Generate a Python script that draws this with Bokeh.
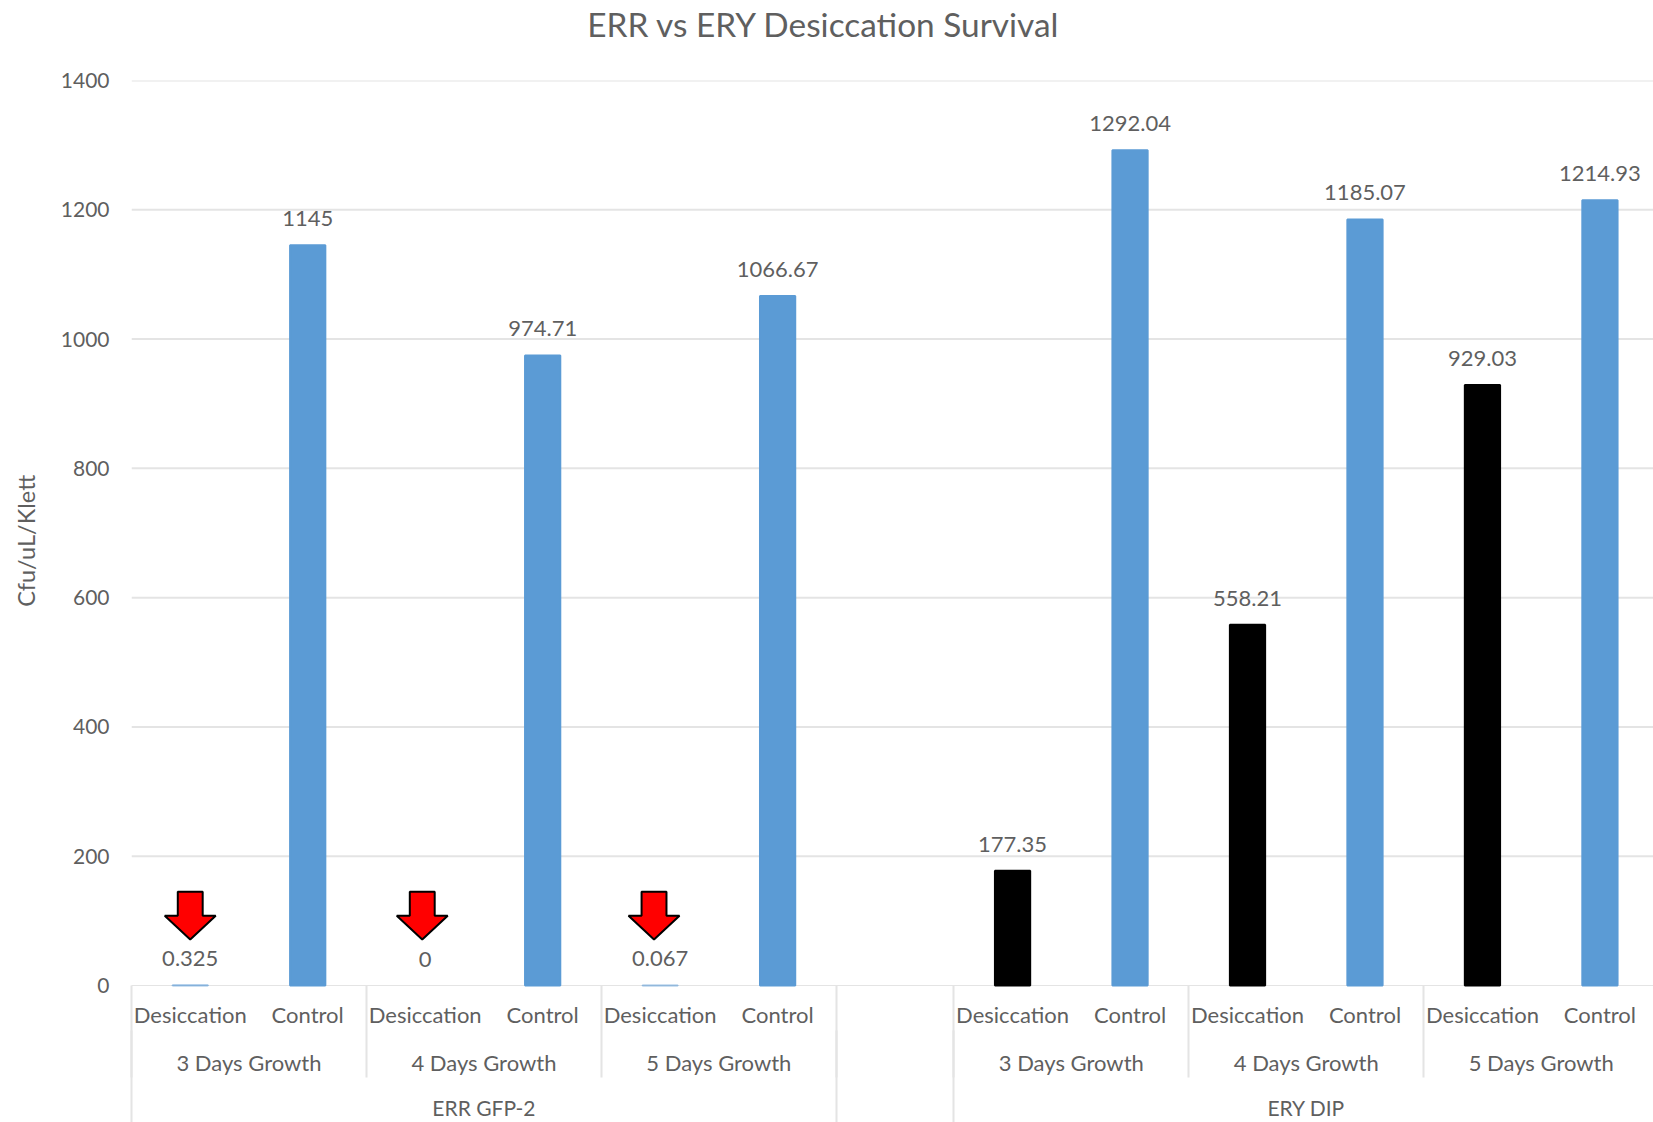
import numpy as np
from bokeh.core.properties import value
from bokeh.embed import file_html
from bokeh.models import ColumnDataSource, FixedTicker, LinearAxis, Range1d, Span
from bokeh.plotting import figure
from bokeh.resources import INLINE

# Category slots run left to right; slot 6 is the empty gap between strains.
slots = [0, 1, 2, 3, 4, 5, 7, 8, 9, 10, 11, 12]
bar_names = ["Desiccation", "Control"] * 6
growth_names = ["3 Days Growth", "4 Days Growth", "5 Days Growth"] * 2
strain_names = ["ERR GFP-2", "ERY DIP"]

values = [0.325, 1145, 0, 974.71, 0.067, 1066.67,
          177.35, 1292.04, 558.21, 1185.07, 929.03, 1214.93]
value_labels = ["0.325", "1145", "0", "974.71", "0.067", "1066.67",
                "177.35", "1292.04", "558.21", "1185.07", "929.03", "1214.93"]
bar_colors = ["#5B9BD5", "#5B9BD5", "#5B9BD5", "#5B9BD5", "#5B9BD5", "#5B9BD5",
              "#000000", "#5B9BD5", "#000000", "#5B9BD5", "#000000", "#5B9BD5"]

y_ticks = [0, 200, 400, 600, 800, 1000, 1200, 1400]

chart_title = "ERR vs ERY Desiccation Survival"
y_title = "Cfu/uL/Klett"

# Callout arrows over the ERR desiccation bars.
arrow_slots = [0.5, 2.475, 4.448]
arrow_top = 145
arrow_shoulder = 108
arrow_tip = 71
arrow_half_head = 0.217
arrow_half_shaft = 0.106

FONT = "Lato"
TEXT = "#5F5F5F"
RULE = "#E4E4E4"

centers = np.array(slots) + 0.5
growth_centers = [1.0, 3.0, 5.0, 8.0, 10.0, 12.0]
strain_centers = [3.0, 10.0]
inner_edges = [2, 4, 9, 11]
outer_edges = [0, 6, 7]

p = figure(
    width=1653, height=1122,
    frame_width=1522, frame_height=905,
    output_backend="svg", toolbar_location=None,
    x_range=Range1d(0, 12.956), y_range=Range1d(0, 1400),
    x_axis_type=None, y_axis_type=None,
    min_border_left=131, min_border_right=0,
    min_border_top=80, min_border_bottom=0,
    background_fill_color="white", border_fill_color="white",
)
p.outline_line_color = None
p.grid.visible = False

for tick in y_ticks[1:]:
    p.add_layout(Span(location=tick, dimension="width", line_color=RULE,
                      line_width=2, level="underlay"))


def text_axis(side, ticks, labels, standoff, size, orientation="horizontal",
              line=None, edges=(), edge_length=0):
    # Each row of text outside the frame is one axis, with its ticks hidden.
    # Edge ticks count towards the axis depth, so the label standoff backs out of them.
    axis = LinearAxis(
        ticker=FixedTicker(ticks=list(ticks), minor_ticks=list(edges)),
        major_label_overrides={float(t): s for t, s in zip(ticks, labels)},
        axis_line_color=line, major_tick_line_color=None,
        minor_tick_line_color=RULE, minor_tick_line_width=2,
        minor_tick_in=0, minor_tick_out=edge_length,
        major_tick_in=0, major_tick_out=0,
        major_label_standoff=standoff - edge_length,
        major_label_orientation=orientation,
        major_label_text_font=FONT, major_label_text_font_size=size,
        major_label_text_color=TEXT,
    )
    p.add_layout(axis, side)


y_axis = LinearAxis(
    ticker=FixedTicker(ticks=y_ticks),
    axis_line_color=None, major_tick_line_color=None, minor_tick_line_color=None,
    major_label_standoff=16,
    major_label_text_font=FONT, major_label_text_font_size="21px",
    major_label_text_color=TEXT,
)
p.add_layout(y_axis, "left")
text_axis("left", [688], [y_title], 17, "23.5px", orientation="vertical")
text_axis("above", [5.894], [chart_title], 37, "33.4px")

text_axis("below", centers, bar_names, 15, "22px", line=RULE,
          edges=inner_edges + outer_edges, edge_length=92)
text_axis("below", growth_centers, growth_names, 18, "22px",
          edges=outer_edges, edge_length=92)
text_axis("below", strain_centers, strain_names, 16, "21px")

bars = ColumnDataSource(dict(
    x=centers, top=values, color=bar_colors, label=value_labels,
    edge=[0.0 if v == 0 else 0.6 if v < 1 else 1.0 for v in values],
))
p.vbar(x="x", top="top", bottom=0, width=0.3, source=bars, level="annotation",
       fill_color="color", line_color="color", line_alpha="edge", line_width=2)
p.text(x="x", y="top", text="label", source=bars,
       text_align="center", text_baseline="middle", y_offset=-26.5,
       text_font=value(FONT), text_font_size="22px", text_color=TEXT)

arrow_xs, arrow_ys = [], []
for s in arrow_slots:
    arrow_xs.append([s - arrow_half_shaft, s + arrow_half_shaft, s + arrow_half_shaft,
                     s + arrow_half_head, s, s - arrow_half_head,
                     s - arrow_half_shaft, s - arrow_half_shaft])
    arrow_ys.append([arrow_top, arrow_top, arrow_shoulder, arrow_shoulder,
                     arrow_tip, arrow_shoulder, arrow_shoulder, arrow_top])
p.patches(arrow_xs, arrow_ys, fill_color="#FF0000", line_color="#000000", line_width=2)

with open("out.html", "w") as f:
    f.write(file_html(p, INLINE))
